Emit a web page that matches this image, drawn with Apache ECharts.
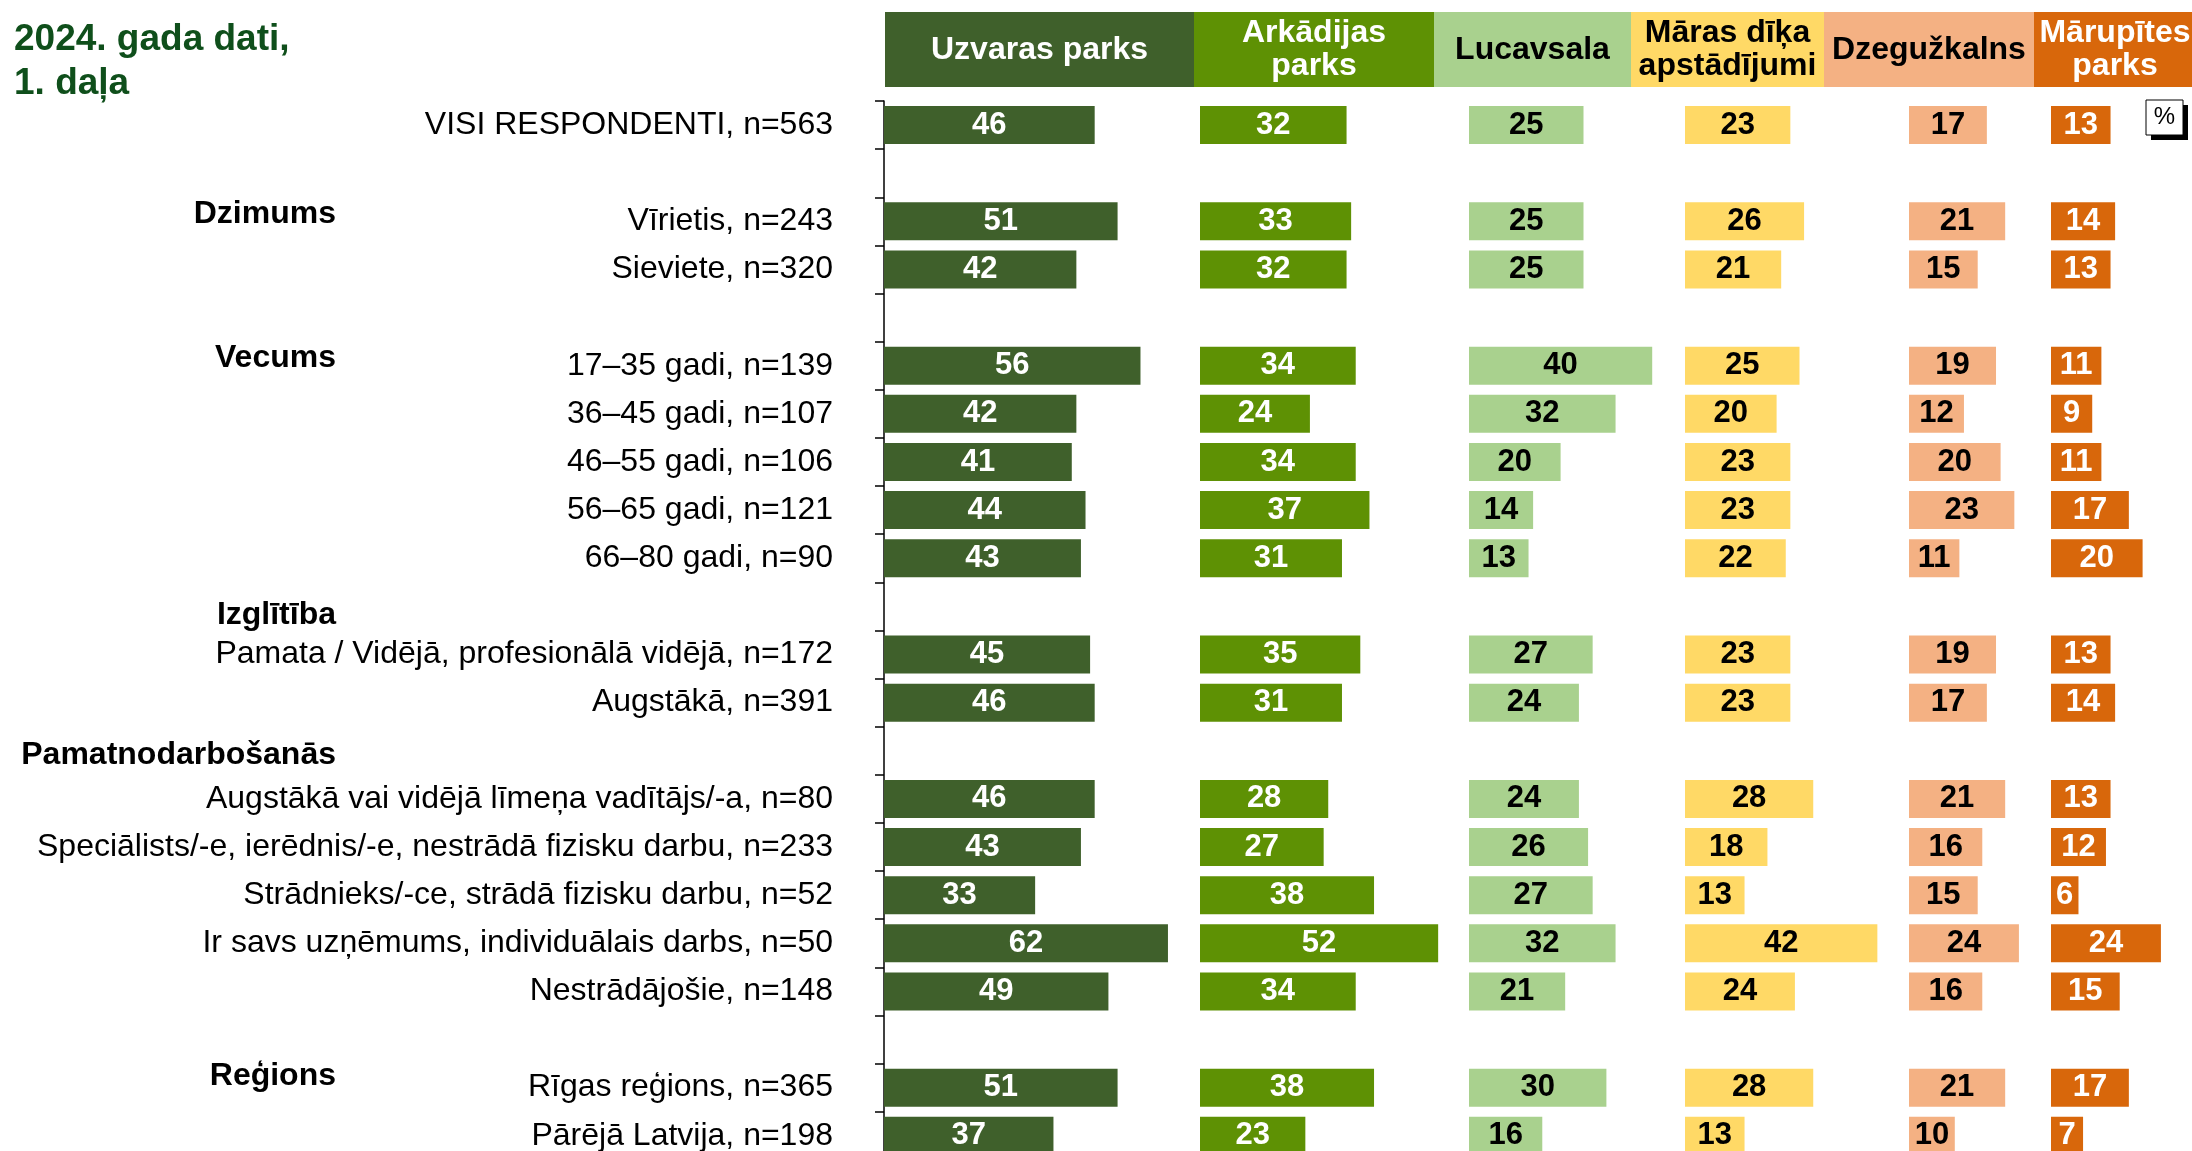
<!DOCTYPE html>
<html>
<head>
    <meta charset="utf-8">
    <title>2024. gada dati, 1. daļa</title>
    <script type="text/javascript" src="https://cdn.jsdelivr.net/npm/echarts@6/dist/echarts.min.js"></script>
    <style>
        html, body { margin: 0; padding: 0; background: #fff; }
        #chart { width: 2192px; height: 1151px; }
    </style>
</head>
<body>
<div id="chart"></div>
<script type="text/javascript">
// rindu nosaukumi ('' = tukša rinda starp grupām)
var categories = [
    'VISI RESPONDENTI, n=563', '',
    'Vīrietis, n=243', 'Sieviete, n=320', '',
    '17–35 gadi, n=139', '36–45 gadi, n=107', '46–55 gadi, n=106', '56–65 gadi, n=121', '66–80 gadi, n=90', '',
    'Pamata / Vidējā, profesionālā vidējā, n=172', 'Augstākā, n=391', '',
    'Augstākā vai vidējā līmeņa vadītājs/-a, n=80', 'Speciālists/-e, ierēdnis/-e, nestrādā fizisku darbu, n=233',
    'Strādnieks/-ce, strādā fizisku darbu, n=52', 'Ir savs uzņēmums, individuālais darbs, n=50', 'Nestrādājošie, n=148', '',
    'Rīgas reģions, n=365', 'Pārējā Latvija, n=198'
];
var groups = ['', '', 'Dzimums', '', '', 'Vecums', '', '', '', '', 'Izglītība', '', '', 'Pamatnodarbošanās',
    '', '', '', '', '', '', 'Reģions', ''];

var parks = ['Uzvaras parks', 'Arkādijas\nparks', 'Lucavsala', 'Māras dīķa\napstādījumi', 'Dzegužkalns', 'Mārupītes\nparks'];

var uzvaras   = [46, null, 51, 42, null, 56, 42, 41, 44, 43, null, 45, 46, null, 46, 43, 33, 62, 49, null, 51, 37];
var arkadijas = [32, null, 33, 32, null, 34, 24, 34, 37, 31, null, 35, 31, null, 28, 27, 38, 52, 34, null, 38, 23];
var lucavsala = [25, null, 25, 25, null, 40, 32, 20, 14, 13, null, 27, 24, null, 24, 26, 27, 32, 21, null, 30, 16];
var maras     = [23, null, 26, 21, null, 25, 20, 23, 23, 22, null, 23, 23, null, 28, 18, 13, 42, 24, null, 28, 13];
var dzeguz    = [17, null, 21, 15, null, 19, 12, 20, 23, 11, null, 19, 17, null, 21, 16, 15, 24, 16, null, 21, 10];
var marupites = [13, null, 14, 13, null, 11, 9, 11, 17, 20, null, 13, 14, null, 13, 12, 6, 24, 15, null, 17, 7];

var seriesData = [uzvaras, arkadijas, lucavsala, maras, dzeguz, marupites];

// izkārtojums un krāsas
var FONT = '"Liberation Sans", Arial, sans-serif';
var fills = ['#3f602b', '#5e9104', '#a9d18e', '#ffd966', '#f4b183', '#d8670b'];
var textCols = ['#fff', '#fff', '#000', '#000', '#000', '#fff'];
var colLeft = [884, 1200, 1469, 1685, 1909, 2051];   // stabiņu sākums
var colMax = [100, 100, 100, 100, 60, 30];            // lai režģis paliek lapā
var headEdges = [885, 1194, 1434, 1631, 1824, 2034, 2196];
var gridTop = 101, rowH = 48.13, pxPerUnit = 4.58;

var myChart = echarts.init(document.getElementById('chart'), null, {renderer: 'canvas'});

var grids = [], xAxes = [], yAxes = [], series = [];
for (var i = 0; i < seriesData.length; i++) {
    grids.push({left: colLeft[i], top: gridTop, width: pxPerUnit * colMax[i], height: rowH * categories.length,
                outerBoundsMode: 'none', containLabel: false});
    xAxes.push({type: 'value', gridIndex: i, min: 0, max: colMax[i], show: false});
}
// kreisā ass ar rindu nosaukumiem
yAxes.push({
    type: 'category', gridIndex: 0, position: 'left', inverse: true, data: categories, offset: 23,
    axisLine: {show: true, lineStyle: {color: '#000', width: 1.5}},
    axisTick: {show: true, length: 9, interval: 0, lineStyle: {color: '#000', width: 1.5}},
    axisLabel: {interval: 0, margin: 28, fontSize: 32, color: '#000', fontFamily: FONT},
    splitLine: {show: false}
});
// grupu virsraksti
var nudge = {'Dzimums': 'up', 'Vecums': 'up', 'Reģions': 'up2', 'Izglītība': 'down', 'Pamatnodarbošanās': 'down2'};
var groupStyle = {fontSize: 32, fontWeight: 'bold', color: '#000', fontFamily: FONT};
yAxes.push({
    type: 'category', gridIndex: 0, position: 'left', inverse: true, data: groups, offset: 524,
    axisLine: {show: false}, axisTick: {show: false}, splitLine: {show: false},
    axisLabel: {
        interval: 0, margin: 24,
        formatter: function (v) { return v ? '{' + nudge[v] + '|' + v + '}' : ''; },
        rich: {
            up:    echarts.util.extend({padding: [0, 0, 15, 0]}, groupStyle),
            up2:   echarts.util.extend({padding: [0, 0, 23, 0]}, groupStyle),
            down:  echarts.util.extend({padding: [17, 0, 0, 0]}, groupStyle),
            down2: echarts.util.extend({padding: [8, 0, 0, 0]}, groupStyle)
        }
    }
});
for (var j = 1; j < seriesData.length; j++) {
    yAxes.push({type: 'category', gridIndex: j, inverse: true, data: categories, show: false});
}
for (var k = 0; k < seriesData.length; k++) {
    series.push({
        type: 'bar', name: parks[k].replace('\n', ' '),
        xAxisIndex: k, yAxisIndex: k === 0 ? 0 : k + 1,
        data: seriesData[k], barWidth: 38, silent: true,
        itemStyle: {color: fills[k]},
        label: {show: true, position: 'inside', formatter: '{c}', fontSize: 31, fontWeight: 'bold',
                color: textCols[k], fontFamily: FONT}
    });
}

// kolonnu virsraksti
var graphics = [];
for (var h = 0; h < parks.length; h++) {
    graphics.push({type: 'rect', shape: {x: headEdges[h], y: 12, width: headEdges[h + 1] - headEdges[h], height: 75},
                   style: {fill: fills[h]}, silent: true});
    graphics.push({type: 'text', x: (headEdges[h] + headEdges[h + 1]) / 2, y: 50, silent: true,
                   style: {text: parks[h], fill: textCols[h], font: 'bold 32px ' + FONT, lineHeight: 33,
                           align: 'center', verticalAlign: 'middle'}});
}
// "%" zīme
graphics.push({type: 'rect', shape: {x: 2151, y: 105, width: 37, height: 35}, style: {fill: '#000'}, silent: true});
graphics.push({type: 'rect', shape: {x: 2146, y: 100, width: 37, height: 35}, style: {fill: '#fff', stroke: '#000', lineWidth: 1}, silent: true});
graphics.push({type: 'text', x: 2164.5, y: 117.5, silent: true,
               style: {text: '%', fill: '#000', font: '24px ' + FONT, align: 'center', verticalAlign: 'middle'}});

myChart.setOption({
    animation: false,
    backgroundColor: '#fff',
    title: {
        text: '2024. gada dati,\n1. daļa', left: 9, top: 13,
        textStyle: {fontSize: 37, fontWeight: 'bold', color: '#0f4f1b', fontFamily: FONT, lineHeight: 44}
    },
    grid: grids,
    xAxis: xAxes,
    yAxis: yAxes,
    series: series,
    graphic: graphics
});
</script>
</body>
</html>
